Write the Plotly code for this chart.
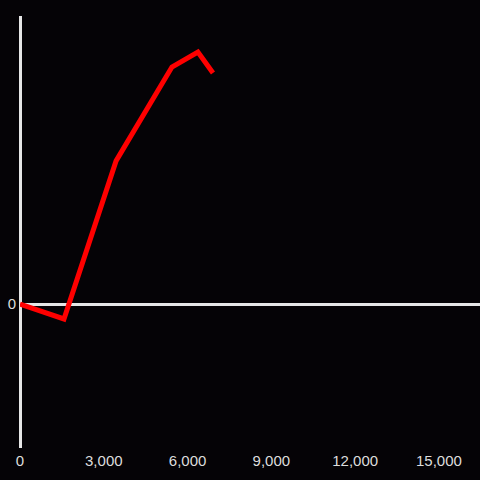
import plotly.graph_objects as go

# Data
x_vals = [0, 1575, 3440, 5440, 6370, 6910]
y_vals = [0, -5.2, 49.7, 82.3, 87.5, 80.2]

x_ticks = [0, 3000, 6000, 9000, 12000, 15000]

BG = "#050306"
AXIS = "#e6e6e6"

fig = go.Figure()

fig.add_trace(go.Scatter(
    x=x_vals,
    y=y_vals,
    mode="lines",
    line=dict(color="#ff0000", width=5),
    showlegend=False
))

fig.update_layout(
    width=480,
    height=480,
    plot_bgcolor=BG,
    paper_bgcolor=BG,
    margin=dict(l=20, r=0, t=16, b=32),
    font=dict(family="Liberation Sans, Arial, sans-serif", size=15, color="#dddddd"),
    xaxis=dict(
        range=[0, 16470],
        tickvals=x_ticks,
        tickformat=",d",
        showgrid=False,
        showline=False,
        zeroline=True,
        zerolinecolor=AXIS,
        zerolinewidth=3,
        ticks="",
        ticklabelstandoff=2
    ),
    yaxis=dict(
        range=[-50, 100],
        tickvals=[0],
        showgrid=False,
        showline=False,
        zeroline=True,
        zerolinecolor=AXIS,
        zerolinewidth=3,
        ticks="",
        ticklabelstandoff=3
    )
)

# strip the default page margin so the chart fills the window
fig.write_html(
    "out.html",
    config={"displayModeBar": False},
    post_script="document.body.style.margin='0';document.body.style.background='#050306';"
)
